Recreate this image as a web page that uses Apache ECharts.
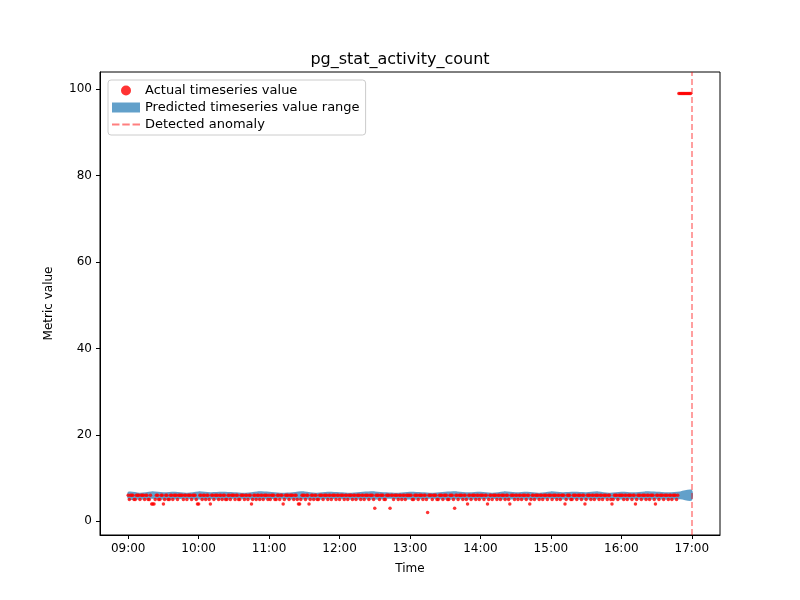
<!DOCTYPE html>
<html>
<head>
<meta charset="utf-8">
<script src="https://cdn.jsdelivr.net/npm/echarts@6/dist/echarts.min.js"></script>
<style>html,body{margin:0;background:#fff}#chart{width:800px;height:600px}</style>
</head>
<body>
<div id="chart"></div>
<script>
// actual value per minute, one string per hour (09..16); 9 means 99
var hourStarts = [9, 10, 11, 12, 13, 14, 15, 16];
var minuteValues = [
	"656665566656665665564445665566456655665666566665665666566654",
	"466566566546656665665665566566656655666566566456656656656665",
	"656665566566456665666566544566656645665665566656665665666566",
	"566656656665665666566566656665366656665566636656665665665666",
	"665566656665665266656665566656665566653665666566546656665665",
	"666566456656665665666566546665665665666566456656665665666566",
	"656665665666456665566656665664566656656665665666566545666566",
	"665665666566456665666566566654665666566656656665699999999999"
];
var tickLabels = ["09:00", "10:00", "11:00", "12:00", "13:00", "14:00", "15:00", "16:00", "17:00"];
// predicted range, every 10 minutes from 09:00 to 17:00
var bandLower = [5.1, 5.0, 5.2, 5.0, 5.1, 5.2, 5.0, 5.1, 5.0, 5.2, 5.1, 5.0, 5.1, 5.2, 5.0, 5.1, 5.0, 5.1, 5.2, 5.0, 5.1, 5.0, 5.2, 5.1, 5.0, 5.1, 5.2, 5.0, 5.1, 5.0, 5.1, 5.2, 5.0, 5.1, 5.0, 5.1, 5.2, 5.0, 5.1, 5.0, 5.1, 5.2, 5.0, 5.1, 5.0, 5.1, 5.0, 5.1, 4.8];
var bandUpper = [6.8, 6.6, 6.9, 6.7, 6.8, 6.6, 6.9, 6.7, 6.8, 6.7, 6.6, 6.9, 6.8, 6.6, 6.7, 6.9, 6.6, 6.8, 6.7, 6.6, 6.8, 6.9, 6.7, 6.6, 6.8, 6.7, 6.6, 6.8, 6.9, 6.7, 6.8, 6.6, 6.9, 6.7, 6.8, 6.6, 6.9, 6.7, 6.8, 6.7, 6.9, 6.6, 6.8, 6.7, 6.9, 6.8, 6.7, 6.9, 7.2];
var anomalyAt = 480;

var actual = [];
hourStarts.forEach(function (h, hi) {
	var s = minuteValues[hi];
	for (var i = 0; i < s.length; i++) {
		var v = +s[i];
		actual.push([(h - 9) * 60 + i, v === 9 ? 99 : v]);
	}
});
var bandData = [];
for (var i = 0; i < bandLower.length; i++) {
	bandData.push([i * 10, bandLower[i], bandUpper[i]]);
}

var chart = echarts.init(document.getElementById('chart'));
var txt = { color: '#000', fontFamily: 'DejaVu Sans', fontSize: 12 };
var bandColor = 'rgba(31,119,180,0.7)';
chart.setOption({
	animation: false,
	backgroundColor: '#fff',
	title: {
		text: 'pg_stat_activity_count', left: 'center', top: 47,
		textStyle: { color: '#000', fontFamily: 'DejaVu Sans', fontSize: 16, fontWeight: 'normal' }
	},
	legend: {
		left: 108, top: 80, orient: 'vertical', itemGap: 4, itemWidth: 28, itemHeight: 10,
		borderColor: '#ccc', borderWidth: 1, borderRadius: 3, padding: [4, 6, 4, 4],
		backgroundColor: '#fff',
		textStyle: { color: '#000', fontFamily: 'DejaVu Sans', fontSize: 13 },
		data: [
			{ name: 'Actual timeseries value', icon: 'circle', itemStyle: { color: 'red' } },
			{ name: 'Predicted timeseries value range', icon: 'rect', itemStyle: { color: bandColor } },
			{ name: 'Detected anomaly', icon: 'path://M0,4h8v2h-8z M11,4h8v2h-8z M22,4h8v2h-8z', itemStyle: { color: 'rgba(255,0,0,0.5)' } }
		]
	},
	grid: { left: 100, right: 80, top: 72, bottom: 65, show: true, borderColor: '#000', borderWidth: 1 },
	xAxis: {
		type: 'value', min: -24, max: 504, name: 'Time', nameLocation: 'middle', nameGap: 28,
		nameTextStyle: txt, splitLine: { show: false },
		axisLine: { onZero: false, lineStyle: { color: '#000' } },
		axisTick: { customValues: [0, 60, 120, 180, 240, 300, 360, 420, 480], length: 4, lineStyle: { color: '#000' } },
		axisLabel: {
			customValues: [0, 60, 120, 180, 240, 300, 360, 420, 480], color: '#000', fontFamily: 'DejaVu Sans', fontSize: 12,
			formatter: function (v) { return tickLabels[Math.round(v / 60)]; }
		}
	},
	yAxis: {
		type: 'value', min: -3.2, max: 104, name: 'Metric value', nameLocation: 'middle', nameGap: 45,
		nameTextStyle: txt, splitLine: { show: false },
		axisLine: { show: true, onZero: false, lineStyle: { color: '#000' } },
		axisTick: { show: true, customValues: [0, 20, 40, 60, 80, 100], length: 4, lineStyle: { color: '#000' } },
		axisLabel: { customValues: [0, 20, 40, 60, 80, 100], color: '#000', fontFamily: 'DejaVu Sans', fontSize: 12 }
	},
	series: [
		{
			name: 'Predicted timeseries value range', type: 'custom', data: bandData,
			itemStyle: { color: bandColor },
			renderItem: function (params, api) {
				if (params.dataIndex !== 0) return;
				var top = [], bottom = [];
				for (var i = 0; i < bandData.length; i++) {
					top.push(api.coord([bandData[i][0], bandData[i][2]]));
					bottom.unshift(api.coord([bandData[i][0], bandData[i][1]]));
				}
				return {
					type: 'polygon', shape: { points: top.concat(bottom), smooth: 0.3 },
					style: { fill: bandColor }
				};
			},
			encode: { x: 0, y: [1, 2] }
		},
		{
			name: 'Actual timeseries value', type: 'scatter', data: actual, symbolSize: 3.5,
			itemStyle: { color: 'red' }, z: 5
		},
		{
			name: 'Detected anomaly', type: 'line', data: [], itemStyle: { color: 'rgba(255,0,0,0.5)' },
			markLine: {
				symbol: 'none', silent: true, label: { show: false },
				lineStyle: { color: 'rgba(255,0,0,0.5)', type: [6, 3], width: 1.5 },
				data: [{ xAxis: anomalyAt }]
			}
		}
	]
});
</script>
</body>
</html>
